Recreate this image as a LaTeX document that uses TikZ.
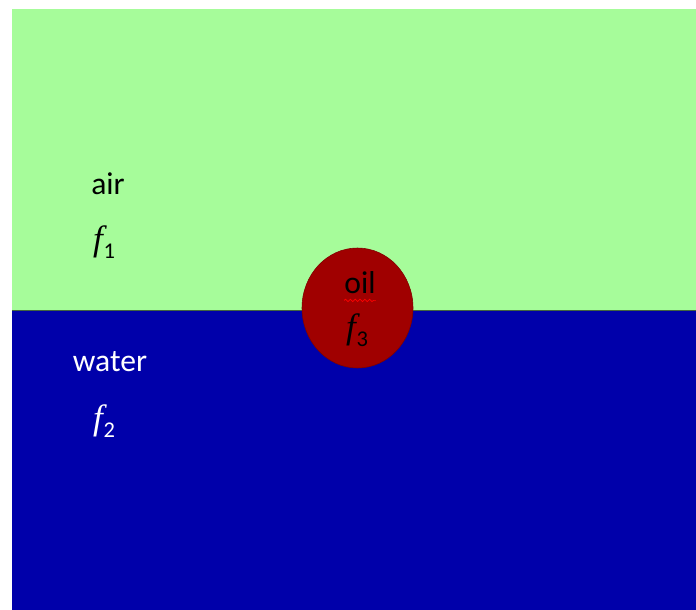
\documentclass[tikz,border=0pt]{standalone}
\usepackage{fontspec}
\setmainfont{Carlito}
\newfontfamily\symfont{Liberation Serif}
\usepackage{tikz}
\usetikzlibrary{positioning,shapes.geometric,decorations.pathmorphing}
\definecolor{airgreen}{RGB}{166,252,154}
\definecolor{waterblue}{RGB}{0,0,170}
\definecolor{oilred}{RGB}{160,0,0}
\newcommand{\phase}[1]{{\symfont\itshape f}\kern0.02em\raisebox{-0.45ex}{\fontsize{16}{18}\selectfont #1}}

\begin{document}
\begin{tikzpicture}[
  x=0.025cm, y=-0.025cm,
  lbl/.style={font=\fontsize{22.5}{26}\selectfont, inner sep=0pt},
  sym/.style={font=\fontsize{25}{28}\selectfont, inner sep=0pt}
]
\useasboundingbox (0,0) rectangle (696,610);

% Air layer
\fill[airgreen] (12,9) rectangle (696,310);

% Water layer
\fill[waterblue] (12,310) rectangle (696,610);

% Interface
\draw[black!60!airgreen, line width=0.6pt] (12,310) -- (696,310);

% Oil droplet
\node[ellipse, fill=oilred, draw=oilred!80!black, line width=0.4pt,
  minimum width=111*0.025cm, minimum height=120*0.025cm, inner sep=0pt]
  (oil) at (357.5,308) {};

% Labels
\node[lbl, text=black] (air) at (108,184) {air};
\node[sym, text=black] (f1) at (104,242) {\phase{1}};
\node[lbl, text=white] (water) at (110,362) {water};
\node[sym, text=white] (f2) at (104,421) {\phase{2}};
\node[lbl, text=black] (oillbl) at (360,283) {oil};
\node[sym, text=black] (f3) at (357,330) {\phase{3}};

% Spell-check mark
\draw[red, line width=0.5pt, decorate,
  decoration={snake, segment length=1.2mm, amplitude=0.3mm}]
  ([yshift=-1.5mm]oillbl.south west) -- ([yshift=-1.5mm]oillbl.south east);

\end{tikzpicture}
\end{document}
